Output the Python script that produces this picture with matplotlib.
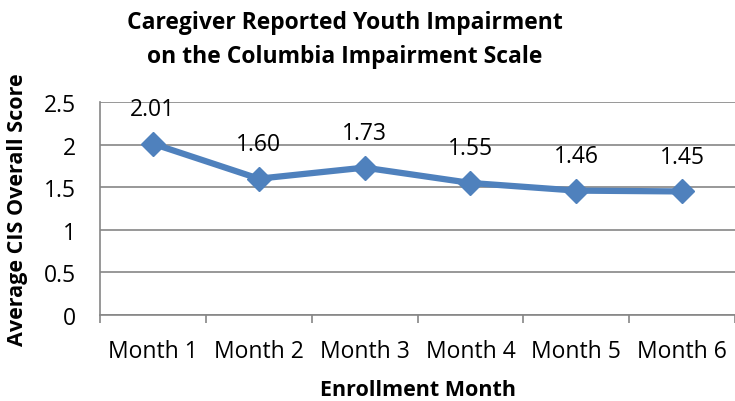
import matplotlib
matplotlib.use("Agg")
import matplotlib.pyplot as plt

categories = ["Month 1", "Month 2", "Month 3", "Month 4", "Month 5", "Month 6"]
values = [2.01, 1.60, 1.73, 1.55, 1.46, 1.45]
labels = ["2.01", "1.60", "1.73", "1.55", "1.46", "1.45"]
yticks = [0, 0.5, 1, 1.5, 2, 2.5]
ytick_labels = ["0", "0.5", "1", "1.5", "2", "2.5"]

plt.rcParams['font.family'] = ['Open Sans', 'DejaVu Sans']

fig = plt.figure(figsize=(7.35, 4.02), dpi=100)
ax = fig.add_axes([100/735, 1 - 316/402, 635/735, (316-103)/402])

x = list(range(len(categories)))
ax.plot(x, values, color="#4F81BD", lw=4.5, marker="D", ms=12, zorder=3)
for xi, v, lab in zip(x, values, labels):
    ax.annotate(lab, (xi, v), xytext=(0, 25), textcoords="offset points",
                ha="center", va="center", fontsize=16.5, color="black")

ax.set_xlim(-0.5, len(categories) - 0.5)
ax.set_ylim(0, 2.5)
ax.set_yticks(yticks)
ax.set_yticklabels(ytick_labels, fontsize=16.5)
ax.set_xticks(x)
ax.set_xticklabels(categories, fontsize=16.5)
ax.tick_params(axis='x', length=0, pad=17)
ax.tick_params(axis='y', length=0, pad=17)
# boundary ticks
ax.set_xticks([i - 0.5 for i in range(len(categories) + 1)], minor=True)
ax.tick_params(axis='x', which='minor', length=6, color="#868686", width=1.2, direction='out')
ax.yaxis.grid(True, color="#868686", lw=1.2)
ax.set_axisbelow(True)
for s in ["top", "right"]:
    ax.spines[s].set_visible(False)
for s in ["left", "bottom"]:
    ax.spines[s].set_color("#868686")
    ax.spines[s].set_linewidth(1.2)

ax.set_xlabel("Enrollment Month", fontsize=15.5, fontweight="bold", labelpad=12)
ax.set_ylabel("Average CIS Overall Score", fontsize=15.5, fontweight="bold", labelpad=12)
fig.text(345/735, 1 - 40/402, "Caregiver Reported Youth Impairment\non the Columbia Impairment Scale",
         ha="center", va="center", fontsize=16.5, fontweight="bold", linespacing=1.6)

fig.savefig("out.png", dpi=100)
